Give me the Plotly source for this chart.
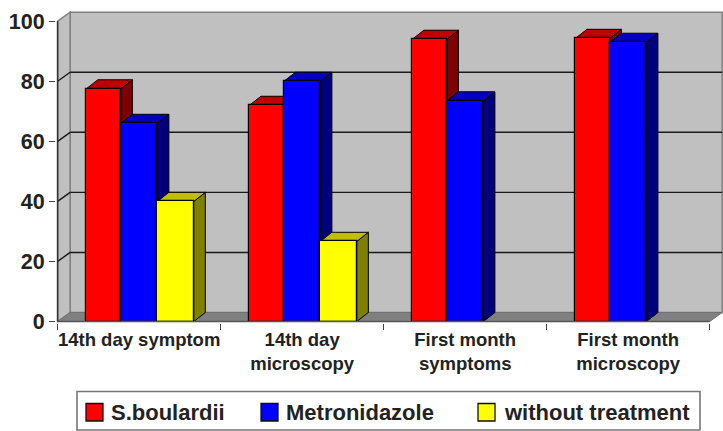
import plotly.graph_objects as go

categories = ["14th day symptom", "14th day<br>microscopy", "First month<br>symptoms", "First month<br>microscopy"]
s_boulardii = [77.5, 72, 94, 94.3]
metronidazole = [66, 80, 73.5, 93]
without_treatment = [40, 26.7, None, None]
y_ticks = [0, 20, 40, 60, 80, 100]

series = [
    ("S.boulardii", s_boulardii, "#ff0000", "#bf0000", "#7f0000"),
    ("Metronidazole", metronidazole, "#0000ff", "#0000bf", "#00007f"),
    ("without treatment", without_treatment, "#ffff00", "#bfbf00", "#7f7f00"),
]

BAR_W = 0.2237
RED_INSET = 0.012
DX = 12.5 / 163.1     # depth offset, x units
DY = 3.0              # depth offset, y units
BDX = 11.5 / 163.1    # bar depth
WALL = "#c0c0c0"
FLOOR = "#808080"
INK = "#1a1a1a"
ML, MT, MB, W, H = 56, 11, 108, 723, 431

def poly(pts, fill, line, width=1.0, layer="below"):
    path = "M" + " L".join(f"{x},{y}" for x, y in pts) + " Z"
    return dict(type="path", path=path, xref="x", yref="y", fillcolor=fill,
                line=dict(color=line, width=width), layer=layer)

def seg(x0, y0, x1, y1, color, width, layer="below"):
    return dict(type="line", x0=x0, y0=y0, x1=x1, y1=y1, xref="x", yref="y",
                line=dict(color=color, width=width), layer=layer)

def px(x):
    return (x - ML) / (W - ML)

def py(y):
    return (H - MB - y) / (H - MB - MT)

def rect(x0, y0, x1, y1, fill, line, width):
    return dict(type="rect", xref="paper", yref="paper", x0=px(x0), x1=px(x1),
                y0=py(y0), y1=py(y1), fillcolor=fill, line=dict(color=line, width=width))

n = len(categories)
shapes = [
    poly([(DX, DY), (n + DX, DY), (n + DX, 100 + DY), (DX, 100 + DY)], WALL, "#808080", 1.5),
    poly([(0, 0), (DX, DY), (DX, 100 + DY), (0, 100)], WALL, "#808080", 1.5),
    poly([(0, 0), (n, 0), (n + DX, DY), (DX, DY)], FLOOR, "#707070", 1.0),
]
for t in y_ticks[1:-1]:
    shapes.append(seg(0, t, DX, t + DY, INK, 1.4))
    shapes.append(seg(DX, t + DY, n + DX, t + DY, INK, 1.4))

fig = go.Figure()
for k, (name, vals, front, top, side) in enumerate(series):
    inset = RED_INSET if k == 0 else 0
    width = BAR_W - inset
    xs = [i + 0.5 + (k - 1) * BAR_W + inset / 2 for i in range(n)]
    fig.add_trace(go.Bar(
        x=xs, y=vals, width=width, name=name, showlegend=False,
        marker=dict(color=front, line=dict(color="#000000", width=1.2)),
    ))
    for x, v in zip(xs, vals):
        if v is None:
            continue
        l, r = x - width / 2, x + width / 2
        shapes.append(poly([(r, 0), (r + BDX, DY), (r + BDX, v + DY), (r, v)], side, "#000000", 1.0))
        shapes.append(poly([(l, v), (r, v), (r + BDX, v + DY), (l + BDX, v + DY)], top, "#000000", 1.0))

# axis lines
shapes.append(seg(0, 0, 0, 100, "#333333", 1.5, "above"))
shapes.append(seg(0, 0, n, 0, "#555555", 1.5, "above"))

# legend frame, swatches and labels
shapes.append(rect(77, 391.5, 700, 430, "white", "#777777", 1.6))
swatch_x = [86, 261, 478]
label_x = [110, 285, 503]
annotations = []
for (name, _, front, _, _), sx, lx in zip(series, swatch_x, label_x):
    shapes.append(rect(sx, 403.5, sx + 17, 421, front, "#111111", 1.3))
    annotations.append(dict(
        xref="paper", yref="paper", x=px(lx), y=py(413), text=name, showarrow=False,
        xanchor="left", yanchor="middle", xshift=-1,
        font=dict(size=22, family="Liberation Sans", weight="bold", color="#222222"),
    ))

fig.update_layout(
    width=W, height=H, autosize=False,
    margin=dict(l=ML, r=0, t=MT, b=MB, autoexpand=False),
    paper_bgcolor="white", plot_bgcolor="white",
    barmode="overlay", bargap=0,
    shapes=shapes, annotations=annotations,
    font=dict(family="Liberation Sans", color="#222222"),
    showlegend=False,
    xaxis=dict(
        range=[-0.01, n + DX + 0.005], showgrid=False, zeroline=False, showline=False,
        tickmode="array", tickvals=[i + 0.5 for i in range(n)], ticktext=categories,
        ticks="", ticklabelstandoff=3,
        tickfont=dict(size=18.5, family="Liberation Sans", weight="bold", color="#222222"),
        minor=dict(tickmode="array", tickvals=list(range(n + 1)), ticks="outside",
                   ticklen=6, tickwidth=1.3, tickcolor="#444444", showgrid=False),
        fixedrange=True,
    ),
    yaxis=dict(
        range=[-0.5, 103.4], showgrid=False, zeroline=False, showline=False,
        tickmode="array", tickvals=y_ticks, ticks="outside", ticklen=6, tickwidth=1.3,
        tickcolor="#444444", tickfont=dict(size=21.5, family="Liberation Sans", weight="bold", color="#222222"),
        fixedrange=True,
    ),
)
fig.write_html("out.html", config={"displayModeBar": False},
               post_script="document.body.style.margin='0';")
